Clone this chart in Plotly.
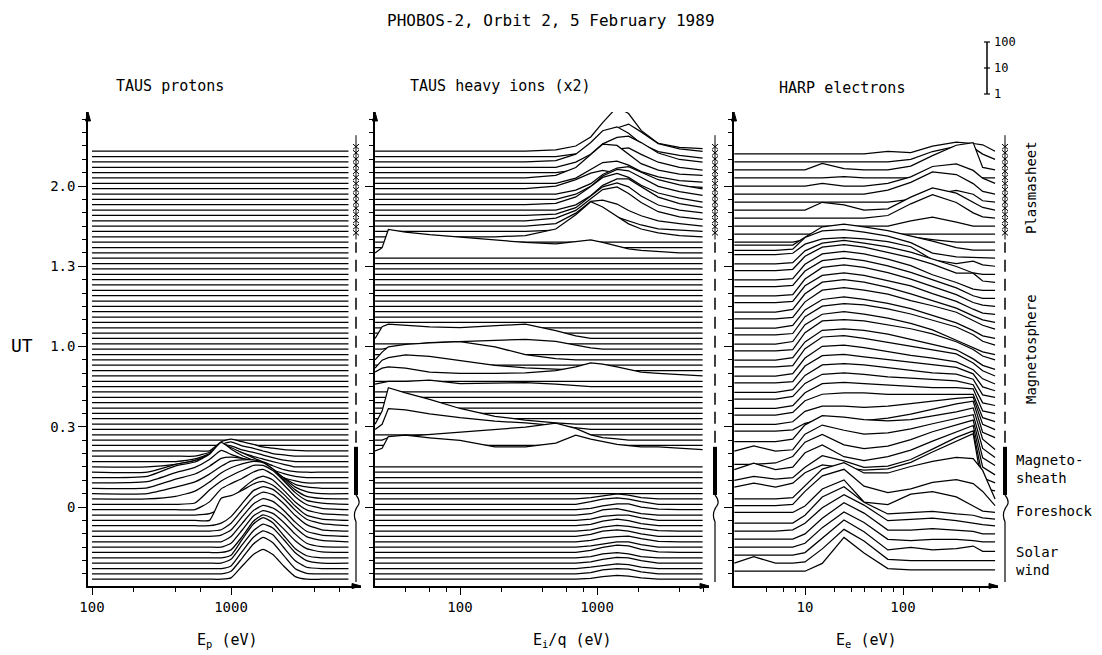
import plotly.graph_objects as go

# ---------------- data ----------------
# UT in minutes after 00:00 (rows of the waterfall), heights in log10(counts)
proton_energy = [100, 250, 400, 550, 700, 850, 1000, 1200, 1450, 1700, 2000, 2400, 2900, 3500, 4500, 7000]
proton_ut = [-27, -25, -23, -21, -19, -17, -15, -13, -11, -9, -7, -5, -3, -1, 1, 3, 5, 7, 9, 11, 13, 15,
             17, 19, 21, 23, 25, 27, 29, 31, 33, 35, 37, 39, 41, 43, 45, 47, 49, 51, 53, 55, 57, 59, 61,
             63, 65, 67, 69, 71, 73, 75, 77, 79, 81, 83, 85, 87, 89, 91, 93, 95, 97, 99, 101, 103, 105,
             107, 109, 111, 113, 115, 117, 119, 121, 123, 125, 127, 129, 131, 133]
proton_spectra = {
    -27: [0, 0, 0, 0, 0, 0, 0.05, 0.5, 0.95, 1.15, 0.95, 0.5, 0.1, 0, 0, 0],
    -25: [0, 0, 0, 0, 0, 0, 0.1, 0.6, 1.15, 1.4, 1.2, 0.7, 0.2, 0.02, 0, 0],
    -23: [0, 0, 0, 0, 0, 0, 0.1, 0.65, 1.2, 1.45, 1.3, 0.8, 0.3, 0.05, 0, 0],
    -21: [0, 0, 0, 0, 0, 0, 0.15, 0.7, 1.25, 1.5, 1.35, 0.9, 0.4, 0.1, 0, 0],
    -19: [0, 0, 0, 0, 0, 0, 0.1, 0.7, 1.3, 1.55, 1.35, 0.85, 0.35, 0.08, 0, 0],
    -17: [0, 0, 0, 0, 0, 0, 0.1, 0.6, 1.2, 1.45, 1.3, 0.9, 0.45, 0.15, 0.02, 0],
    -15: [0, 0, 0, 0, 0, 0, 0.15, 0.65, 1.2, 1.4, 1.3, 0.95, 0.5, 0.15, 0.02, 0],
    -13: [0, 0, 0, 0, 0, 0, 0.2, 0.7, 1.2, 1.4, 1.3, 1.0, 0.55, 0.2, 0.05, 0],
    -11: [0, 0, 0, 0, 0, 0.05, 0.25, 0.75, 1.25, 1.45, 1.35, 1.0, 0.55, 0.2, 0.05, 0],
    -9: [0, 0, 0, 0, 0, 0.05, 0.3, 0.8, 1.3, 1.5, 1.4, 1.05, 0.6, 0.25, 0.05, 0],
    -7: [0, 0, 0, 0, 0, 0.1, 0.35, 0.85, 1.35, 1.5, 1.4, 1.05, 0.6, 0.25, 0.08, 0],
    -5: [0, 0, 0, 0, 0, 0.85, 0.95, 1.15, 1.4, 1.5, 1.35, 1.0, 0.55, 0.2, 0.05, 0],
    -3: [0, 0, 0, 0, 0.05, 0.25, 0.6, 1.0, 1.35, 1.5, 1.35, 0.95, 0.5, 0.2, 0.05, 0],
    -1: [0, 0, 0, 0, 0.3, 0.8, 1.0, 1.2, 1.45, 1.55, 1.35, 0.95, 0.5, 0.2, 0.05, 0],
    1: [0, 0, 0, 0.05, 0.55, 0.9, 1.1, 1.3, 1.5, 1.5, 1.3, 0.9, 0.45, 0.15, 0.05, 0],
    3: [0, 0, 0.1, 0.3, 0.65, 1.0, 1.2, 1.35, 1.45, 1.4, 1.15, 0.75, 0.35, 0.1, 0.02, 0],
    5: [0, 0, 0.25, 0.45, 0.75, 1.05, 1.25, 1.3, 1.3, 1.2, 0.95, 0.6, 0.25, 0.08, 0, 0],
    7: [0, 0.02, 0.35, 0.55, 0.85, 1.15, 1.2, 1.15, 1.05, 0.9, 0.65, 0.4, 0.15, 0.05, 0, 0],
    9: [0, 0.05, 0.4, 0.6, 0.9, 1.25, 1.1, 0.95, 0.8, 0.6, 0.4, 0.2, 0.08, 0, 0, 0],
    11: [0, 0.05, 0.45, 0.6, 0.9, 1.35, 1.1, 0.85, 0.65, 0.45, 0.3, 0.15, 0.05, 0, 0, 0],
    13: [0, 0, 0.3, 0.45, 0.7, 1.1, 0.95, 0.75, 0.55, 0.4, 0.25, 0.1, 0.02, 0, 0, 0],
    15: [0, 0, 0.1, 0.25, 0.45, 0.8, 0.7, 0.55, 0.4, 0.3, 0.2, 0.1, 0, 0, 0, 0],
    17: [0, 0, 0, 0.1, 0.3, 0.65, 0.6, 0.45, 0.35, 0.25, 0.15, 0.05, 0, 0, 0, 0],
    19: [0, 0, 0, 0, 0.15, 0.45, 0.55, 0.4, 0.3, 0.2, 0.1, 0.05, 0, 0, 0, 0],
    21: [0, 0, 0, 0, 0, 0.35, 0.45, 0.35, 0.25, 0.15, 0.1, 0.05, 0.02, 0, 0, 0],
}

heavy_energy = [24, 27, 30, 40, 60, 100, 180, 300, 500, 700, 900, 1100, 1400, 1700, 2100, 2800, 4000, 5900]
heavy_ut = [-27, -25, -23, -21, -19, -17, -15, -13, -11, -9, -7, -5, -3, -1, 1, 3, 5, 7, 9, 11, 13, 15,
            21, 23, 25, 27, 29, 31, 33, 35, 37, 39, 41, 43, 45, 47, 49, 51, 53, 55, 57, 59, 61,
            63, 65, 67, 69, 71, 73, 75, 77, 79, 81, 83, 85, 87, 89, 91, 93, 95, 97, 99, 101, 103, 105,
            107, 109, 111, 113, 115, 117, 119, 121, 123, 125, 127, 129, 131, 133]
heavy_spectra = {
    133: [0, 0, 0, 0, 0, 0, 0, 0, 0.05, 0.2, 0.55, 1.1, 1.7, 1.45, 0.8, 0.3, 0.15, 0.1],
    131: [0, 0, 0, 0, 0, 0, 0, 0, 0, 0.1, 0.3, 0.7, 1.1, 1.25, 0.95, 0.5, 0.3, 0.2],
    129: [0, 0, 0, 0, 0, 0, 0, 0, 0.05, 0.3, 0.75, 1.2, 1.35, 1.1, 0.7, 0.4, 0.25, 0.15],
    127: [0, 0, 0, 0, 0, 0, 0, 0, 0, 0.2, 0.5, 0.9, 1.15, 1.2, 0.95, 0.55, 0.3, 0.2],
    125: [0, 0, 0, 0, 0, 0, 0, 0, 0, 0.1, 0.3, 0.6, 0.9, 0.95, 0.7, 0.4, 0.2, 0.1],
    123: [0, 0, 0, 0, 0, 0, 0, 0, 0.1, 0.4, 0.9, 1.3, 1.25, 0.9, 0.55, 0.3, 0.15, 0.1],
    121: [0, 0, 0, 0, 0, 0, 0, 0, 0, 0.2, 0.55, 0.8, 0.85, 0.7, 0.45, 0.25, 0.1, 0.05],
    119: [0, 0, 0, 0, 0, 0, 0, 0, 0.1, 0.35, 0.6, 0.7, 0.6, 0.4, 0.25, 0.15, 0.1, 0.05],
    117: [0, 0, 0, 0, 0, 0, 0, 0, 0, 0.15, 0.4, 0.75, 1.0, 1.05, 0.85, 0.55, 0.35, 0.2],
    115: [0, 0, 0, 0, 0, 0, 0, 0, 0, 0.2, 0.5, 0.9, 1.15, 1.1, 0.85, 0.5, 0.3, 0.15],
    113: [0, 0, 0, 0, 0, 0, 0, 0, 0.05, 0.3, 0.7, 1.05, 1.2, 1.05, 0.75, 0.45, 0.25, 0.1],
    111: [0, 0, 0, 0, 0, 0, 0, 0, 0, 0.2, 0.55, 0.95, 1.2, 1.2, 0.9, 0.5, 0.25, 0.1],
    109: [0, 0, 0, 0, 0, 0, 0, 0, 0.05, 0.3, 0.75, 1.1, 1.25, 1.1, 0.75, 0.4, 0.2, 0.1],
    107: [0, 0, 0, 0, 0, 0, 0, 0, 0.1, 0.4, 0.85, 1.2, 1.3, 1.05, 0.7, 0.35, 0.15, 0.05],
    105: [0, 0, 0, 0, 0, 0, 0, 0, 0.1, 0.5, 0.95, 1.0, 0.85, 0.6, 0.4, 0.2, 0.1, 0],
    103: [0, 0, 0, 0, 0, 0, 0, 0, 0.05, 0.3, 0.6, 0.65, 0.55, 0.4, 0.25, 0.1, 0.05, 0],
    101: [0, 0, 0, 0, 0, 0, 0, 0.05, 0.3, 0.85, 1.35, 1.15, 0.8, 0.5, 0.3, 0.15, 0.05, 0],
    95: [0, 0.2, 0.9, 0.8, 0.7, 0.6, 0.5, 0.4, 0.35, 0.42, 0.5, 0.4, 0.25, 0.15, 0.1, 0.05, 0, 0],
    63: [0, 0.45, 0.55, 0.5, 0.45, 0.42, 0.5, 0.55, 0.3, 0.1, 0, 0, 0, 0, 0, 0, 0, 0],
    59: [0, 0, 0.05, 0.15, 0.25, 0.3, 0.35, 0.38, 0.3, 0.15, 0.05, 0, 0, 0, 0, 0, 0, 0],
    55: [0, 0.3, 0.5, 0.6, 0.65, 0.7, 0.5, 0.2, 0.05, 0, 0, 0, 0, 0, 0, 0, 0, 0],
    51: [0.1, 0.4, 0.5, 0.6, 0.55, 0.4, 0.2, 0.1, 0.05, 0, 0, 0, 0, 0, 0, 0, 0, 0],
    49: [0.15, 0.3, 0.35, 0.3, 0.15, 0.1, 0.1, 0.12, 0.2, 0.35, 0.5, 0.45, 0.35, 0.25, 0.15, 0.1, 0.05, 0],
    45: [0.1, 0.15, 0.2, 0.2, 0.25, 0.12, 0.15, 0.15, 0.1, 0.05, 0, 0, 0, 0, 0, 0, 0, 0],
    31: [0, 0.5, 1.4, 1.2, 0.95, 0.6, 0.3, 0.15, 0.05, 0, 0, 0, 0, 0, 0, 0, 0, 0],
    29: [0, 0.2, 0.8, 0.75, 0.6, 0.45, 0.32, 0.25, 0.15, 0.05, 0, 0, 0, 0, 0, 0, 0, 0],
    25: [0, 0, 0.1, 0.15, 0.2, 0.3, 0.4, 0.5, 0.65, 0.45, 0.2, 0.1, 0.05, 0, 0, 0, 0, 0],
    21: [0, 0.1, 0.55, 0.6, 0.5, 0.4, 0.15, 0.15, 0.3, 0.6, 0.45, 0.35, 0.25, 0.2, 0.15, 0.15, 0.1, 0.05],
    3: [0, 0, 0, 0, 0, 0, 0, 0, 0, 0, 0.05, 0.12, 0.2, 0.15, 0.05, 0, 0, 0],
    1: [0, 0, 0, 0, 0, 0, 0, 0, 0, 0, 0.1, 0.2, 0.25, 0.2, 0.1, 0, 0, 0],
    -1: [0, 0, 0, 0, 0, 0, 0, 0, 0, 0, 0.05, 0.15, 0.22, 0.22, 0.1, 0.02, 0, 0],
    -3: [0, 0, 0, 0, 0, 0, 0, 0, 0, 0, 0.05, 0.2, 0.25, 0.15, 0.05, 0, 0, 0],
    -5: [0, 0, 0, 0, 0, 0, 0, 0, 0, 0, 0.05, 0.15, 0.2, 0.2, 0.1, 0, 0, 0],
    -7: [0, 0, 0, 0, 0, 0, 0, 0, 0, 0, 0.05, 0.18, 0.25, 0.2, 0.08, 0, 0, 0],
    -9: [0, 0, 0, 0, 0, 0, 0, 0, 0, 0, 0.05, 0.15, 0.22, 0.18, 0.1, 0.02, 0, 0],
    -11: [0, 0, 0, 0, 0, 0, 0, 0, 0, 0, 0.08, 0.2, 0.25, 0.2, 0.1, 0, 0, 0],
    -13: [0, 0, 0, 0, 0, 0, 0, 0, 0, 0, 0.05, 0.15, 0.2, 0.22, 0.12, 0.02, 0, 0],
    -15: [0, 0, 0, 0, 0, 0, 0, 0, 0, 0, 0.05, 0.12, 0.2, 0.2, 0.1, 0, 0, 0],
    -17: [0, 0, 0, 0, 0, 0, 0, 0, 0, 0, 0.08, 0.2, 0.28, 0.25, 0.12, 0.02, 0, 0],
    -19: [0, 0, 0, 0, 0, 0, 0, 0, 0, 0, 0.05, 0.15, 0.2, 0.15, 0.05, 0, 0, 0],
    -21: [0, 0, 0, 0, 0, 0, 0, 0, 0, 0, 0.05, 0.15, 0.22, 0.2, 0.1, 0, 0, 0],
    -23: [0, 0, 0, 0, 0, 0, 0, 0, 0, 0, 0.05, 0.12, 0.18, 0.15, 0.05, 0, 0, 0],
    -25: [0, 0, 0, 0, 0, 0, 0, 0, 0, 0, 0.05, 0.15, 0.2, 0.18, 0.08, 0, 0, 0],
    -27: [0, 0, 0, 0, 0, 0, 0, 0, 0, 0, 0.03, 0.1, 0.15, 0.12, 0.05, 0, 0, 0],
}

electron_energy = [1.9, 3, 5, 7.5, 10, 15, 25, 40, 70, 120, 200, 350, 520, 650, 870]
electron_ut = [132, 129, 126, 123, 120, 117, 114, 111, 108, 105, 102, 99, 96, 93, 90, 87, 84, 81, 78,
               75, 72, 69, 66, 63, 60, 57, 54, 51, 48, 45, 42, 39, 36, 33, 30, 27, 24, 21, 18, 15, 12,
               9, 6, 3, 0, -3, -6, -9, -12, -15, -18, -21, -24]
electron_spectra = {
    132: [0, 0, 0, 0, 0, 0, 0, 0, 0.1, 0.05, 0.3, 0.45, 0.4, 0.35, 0.1],
    129: [0, 0, 0, 0, 0, 0, 0, 0, 0, 0.1, 0.4, 0.6, 0.55, 0.3, 0.1],
    126: [0, 0, 0, 0, 0, 0.25, 0.05, 0, 0, 0.15, 0.55, 0.95, 1.05, 0.1, 0],
    123: [0, 0, 0, 0, 0, 0, 0.05, 0, 0, 0, 0.05, 0.1, 0.05, 0, 0],
    120: [0, 0, 0, 0, 0, 0.1, 0, 0, 0.1, 0.35, 0.75, 0.85, 0.6, 0.3, 0.1],
    117: [0, 0, 0, 0, 0, 0, 0, 0, 0.15, 0.45, 0.85, 0.75, 0.4, 0.1, 0],
    114: [0, 0, 0, 0, 0, 0, 0, 0, 0, 0.1, 0.3, 0.45, 0.3, 0.05, 0],
    111: [0, 0, 0, 0, 0, 0.3, 0.2, 0, 0.05, 0.5, 0.85, 0.65, 0.3, 0.1, 0],
    108: [0, 0, 0, 0, 0, 0, 0, 0, 0.1, 0.55, 0.9, 0.6, 0.2, 0.05, 0],
    105: [0, 0, 0, 0, 0, 0, 0, 0, 0, 0.2, 0.35, 0.15, 0, 0, 0],
    99: [0, 0, 0, 0, 0.1, 0.35, 0.5, 0.45, 0.35, 0.2, 0.1, 0, 0, 0, 0],
    96: [0.2, 0.2, 0.2, 0.2, 0.5, 0.9, 1.0, 0.9, 0.75, 0.55, 0.35, 0.1, 0, 0, 0],
    93: [0.3, 0.3, 0.3, 0.35, 0.8, 1.05, 1.1, 1.0, 0.85, 0.6, 0.2, 0.05, 0.02, 0, 0],
    90: [0.45, 0.45, 0.45, 0.5, 0.85, 1.05, 1.1, 1.05, 0.95, 0.75, 0.25, 0.1, 0.2, 0.05, 0],
    87: [0.4, 0.4, 0.4, 0.45, 0.9, 1.2, 1.3, 1.2, 1.05, 0.85, 0.6, 0.3, 0.05, 0, 0],
    84: [0.45, 0.45, 0.45, 0.5, 1.0, 1.35, 1.45, 1.35, 1.15, 0.95, 0.7, 0.35, 0.35, 0.05, 0],
    81: [0.4, 0.4, 0.4, 0.45, 1.0, 1.4, 1.5, 1.4, 1.2, 0.95, 0.6, 0.3, 0.05, 0, 0],
    78: [0.45, 0.45, 0.45, 0.5, 1.05, 1.45, 1.55, 1.45, 1.25, 1.0, 0.7, 0.4, 0.1, 0, 0],
    75: [0.4, 0.4, 0.4, 0.45, 1.05, 1.5, 1.6, 1.5, 1.3, 1.05, 0.75, 0.45, 0.15, 0.05, 0],
    72: [0.45, 0.45, 0.45, 0.5, 1.1, 1.5, 1.6, 1.5, 1.3, 1.1, 0.8, 0.5, 0.2, 0.05, 0],
    69: [0.4, 0.4, 0.4, 0.5, 1.1, 1.55, 1.65, 1.55, 1.35, 1.1, 0.85, 0.55, 0.25, 0.1, 0],
    66: [0.45, 0.45, 0.45, 0.5, 1.1, 1.55, 1.65, 1.55, 1.4, 1.15, 0.95, 0.7, 0.4, 0.2, 0.05],
    63: [0.4, 0.4, 0.4, 0.5, 1.1, 1.5, 1.6, 1.5, 1.35, 1.15, 0.9, 0.6, 0.3, 0.1, 0],
    60: [0.45, 0.45, 0.45, 0.5, 1.15, 1.55, 1.65, 1.6, 1.45, 1.25, 1.0, 0.75, 0.45, 0.2, 0.05],
    57: [0.4, 0.4, 0.4, 0.5, 1.15, 1.55, 1.65, 1.55, 1.4, 1.2, 0.95, 0.55, 0.25, 0.1, 0],
    54: [0.45, 0.45, 0.45, 0.5, 1.15, 1.6, 1.65, 1.6, 1.45, 1.3, 1.1, 0.8, 0.5, 0.25, 0.1],
    51: [0.4, 0.4, 0.4, 0.5, 1.1, 1.55, 1.6, 1.55, 1.4, 1.2, 1.0, 0.8, 0.45, 0.2, 0.05],
    48: [0.45, 0.45, 0.45, 0.5, 1.15, 1.6, 1.65, 1.55, 1.4, 1.25, 1.1, 0.95, 0.6, 0.3, 0.1],
    45: [0.4, 0.4, 0.4, 0.5, 1.1, 1.55, 1.6, 1.5, 1.35, 1.2, 1.1, 0.95, 0.65, 0.3, 0.1],
    42: [0.45, 0.45, 0.45, 0.5, 1.1, 1.5, 1.55, 1.45, 1.35, 1.25, 1.15, 1.05, 0.8, 0.3, 0.15],
    39: [0.4, 0.4, 0.4, 0.5, 1.05, 1.45, 1.5, 1.45, 1.35, 1.25, 1.15, 1.1, 0.9, 0.3, 0.2],
    36: [0.45, 0.45, 0.45, 0.55, 1.05, 1.4, 1.45, 1.4, 1.3, 1.25, 1.2, 1.15, 1.0, 0.3, 0.2],
    33: [0.4, 0.4, 0.4, 0.5, 1.0, 1.35, 1.4, 1.35, 1.3, 1.25, 1.2, 1.2, 1.15, 0.3, 0.2],
    30: [0.45, 0.45, 0.45, 0.55, 1.0, 1.25, 1.3, 1.3, 1.25, 1.25, 1.25, 1.25, 1.25, 0.35, 0.2],
    27: [0.4, 0.4, 0.4, 0.5, 0.9, 1.1, 1.1, 1.05, 1.1, 1.2, 1.3, 1.4, 1.45, 0.4, 0.2],
    24: [0.45, 0.45, 0.45, 0.5, 0.75, 0.9, 0.85, 0.85, 0.95, 1.1, 1.3, 1.5, 1.6, 0.4, 0.2],
    21: [0.35, 0.35, 0.35, 0.45, 1.0, 1.35, 1.3, 1.2, 1.15, 1.2, 1.35, 1.5, 1.65, 0.45, 0.05],
    18: [0.3, 0.5, 0.3, 0.35, 0.95, 1.3, 1.1, 0.95, 1.0, 1.15, 1.35, 1.55, 1.7, 0.4, 0.05],
    15: [0.1, 0.1, 0.15, 0.4, 0.95, 1.25, 0.85, 0.7, 0.8, 1.05, 1.35, 1.6, 1.8, 0.35, 0.05],
    12: [0.2, 0.45, 0.2, 0.3, 0.85, 1.15, 0.7, 0.55, 0.7, 0.95, 1.3, 1.65, 1.9, 0.3, 0],
    9: [0.1, 0.25, 0.15, 0.2, 0.6, 1.05, 0.85, 0.6, 0.65, 0.9, 1.3, 1.75, 2.0, 0.2, 0],
    6: [0.15, 0.3, 0.15, 0.3, 0.7, 1.0, 0.9, 0.8, 0.85, 1.1, 1.5, 1.9, 2.2, 0.1, 0],
    3: [0, 0, 0, 0.05, 0.5, 1.15, 1.4, 1.0, 1.0, 1.25, 1.45, 1.6, 1.55, 1.1, 0],
    0: [0.05, 0.05, 0.05, 0.1, 0.6, 1.2, 1.45, 0.8, 0.55, 0.7, 0.95, 1.05, 0.9, 0.6, 0.05],
    -3: [0.1, 0.1, 0.1, 0.1, 0.35, 1.0, 1.35, 0.5, 0.4, 0.8, 0.9, 0.7, 0.35, 0.15, 0.1],
    -6: [0, 0, 0, 0, 0.3, 1.0, 1.4, 0.8, 0.35, 0.4, 0.45, 0.35, 0.3, 0.2, 0.15],
    -9: [0, 0, 0, 0.05, 0.3, 0.9, 1.4, 1.0, 0.4, 0.45, 0.5, 0.4, 0.3, 0.25, 0.2],
    -12: [0, 0, 0, 0, 0.2, 0.8, 1.4, 1.0, 0.35, 0.35, 0.4, 0.35, 0.3, 0.2, 0.2],
    -15: [0, 0, 0, 0, 0.15, 0.75, 1.35, 0.95, 0.3, 0.25, 0.3, 0.3, 0.25, 0.2, 0.2],
    -18: [0, 0, 0, 0, 0.1, 0.65, 1.35, 0.9, 0.2, 0.3, 0.2, 0.25, 0.35, 0.15, 0.15],
    -21: [0, 0.25, 0, 0, 0.05, 0.55, 1.3, 0.85, 0.15, 0.1, 0.1, 0.1, 0.1, 0.1, 0.1],
    -24: [0, 0, 0, 0, 0, 0.3, 1.3, 0.7, 0.1, 0.05, 0.05, 0.05, 0.05, 0.05, 0.05],
}

ut_tick_vals = [0, 30, 60, 90, 120]
ut_tick_text = ["0", "0.3", "1.0", "1.3", "2.0"]

# region intervals (UT minutes) marked on the right of every panel
region_plasmasheet = (100, 139)
region_magnetosphere = (24, 99)
region_magnetosheath = (4.5, 22.5)
region_foreshock = (-7.5, 4.5)
region_solarwind = (-28, -7.5)

# ---------------- layout constants ----------------
W, H = 1102, 655
PAGE = 8                        # browser body margin: compensate so the page matches
FONT = "DejaVu Sans Mono"
UT0 = 30                        # y = UT + UT0, so the panel bottom sits near y=0
PX_PER_MIN = 2.675
DECADE = 26 / PX_PER_MIN        # one decade of counts in y units
LW = 1.25


def fx(x):
    return (x - PAGE) / W


def fy(y):
    return 1 - (y - PAGE) / H


Y_RANGE = [(507 - 586) / PX_PER_MIN + UT0, (507 - 112) / PX_PER_MIN + UT0]
Y_DOMAIN = [fy(586), fy(112)]

panels = [
    dict(x="x", y="y", energy=proton_energy, ut=proton_ut, spec=proton_spectra,
         dom=(88, 361), rng=[2 + (88 - 92) / 139, 2 + (361 - 92) / 139],
         tickvals=[100, 1000], ticktext=["100", "1000"],
         minor=[200, 400, 600, 2000, 4000, 6000], col=356, labels=True, shape="spline"),
    dict(x="x2", y="y2", energy=heavy_energy, ut=heavy_ut, spec=heavy_spectra,
         dom=(375, 709), rng=[2 + (375 - 460) / 137, 2 + (709 - 460) / 137],
         tickvals=[100, 1000], ticktext=["100", "1000"],
         minor=[40, 60, 80, 200, 400, 600, 800, 2000, 4000, 6000], col=715, labels=False,
         shape="linear"),
    dict(x="x3", y="y3", energy=electron_energy, ut=electron_ut, spec=electron_spectra,
         dom=(734, 998), rng=[1 + (734 - 805) / 98, 2 + (998 - 903) / 98],
         tickvals=[10, 100], ticktext=["10", "100"],
         minor=[4, 6, 8, 20, 30, 40, 60, 80, 200, 400, 600], col=1005, labels=False,
         shape="linear"),
]

fig = go.Figure()
shapes = []
annotations = []
layout_axes = {}

for i, p in enumerate(panels):
    # waterfall: draw back (late UT) to front (early UT); white fill hides lines behind
    for ut in sorted(p["ut"], reverse=True):
        h = p["spec"].get(ut, [0] * len(p["energy"]))
        yy = [ut + UT0 + DECADE * v for v in h]
        fig.add_trace(go.Scatter(
            x=p["energy"], y=yy, mode="lines",
            line=dict(color="black", width=LW, shape=p["shape"], smoothing=0.5),
            fill="tozeroy", fillcolor="white",
            xaxis=p["x"], yaxis=p["y"], hoverinfo="skip", showlegend=False))

    xkey = "xaxis" if i == 0 else f"xaxis{i+1}"
    ykey = "yaxis" if i == 0 else f"yaxis{i+1}"
    layout_axes[xkey] = dict(
        type="log", domain=[fx(p["dom"][0]), fx(p["dom"][1])], range=p["rng"],
        anchor=p["y"], showline=True, linecolor="black", linewidth=1.5,
        showgrid=False, zeroline=False, ticks="outside", ticklen=7, tickwidth=1.2,
        tickcolor="black", tickmode="array", tickvals=p["tickvals"], ticktext=p["ticktext"],
        tickfont=dict(family=FONT, size=14, color="black"), automargin=False,
        minor=dict(tickmode="array", tickvals=p["minor"], ticks="outside", ticklen=4,
                   tickcolor="black", tickwidth=1, showgrid=False),
    )
    layout_axes[ykey] = dict(
        domain=Y_DOMAIN, range=Y_RANGE, anchor=p["x"], showline=True, linecolor="black",
        linewidth=1.5, showgrid=False, zeroline=False, ticks="outside", ticklen=8,
        tickwidth=1.2, tickcolor="black", tickmode="array",
        tickvals=[v + UT0 for v in ut_tick_vals], ticktext=ut_tick_text,
        showticklabels=p["labels"], automargin=False,
        tickfont=dict(family=FONT, size=14, color="black"),
        minor=dict(dtick=5, tick0=0, ticks="outside", ticklen=4, tickcolor="black",
                   tickwidth=1, showgrid=False),
    )

    # axis arrowheads (filled triangles)
    xl, xr = fx(p["dom"][0]), fx(p["dom"][1])
    yt, yb = Y_DOMAIN[1], Y_DOMAIN[0]
    shapes.append(dict(type="path", xref="paper", yref="paper",
                       path=f"M {xl},{yt} L {xl - 2.5 / W},{yt - 9 / H} L {xl + 2.5 / W},{yt - 9 / H} Z",
                       fillcolor="black", line=dict(color="black", width=1)))
    shapes.append(dict(type="path", xref="paper", yref="paper",
                       path=f"M {xr},{yb} L {xr - 9 / W},{yb + 2.5 / H} L {xr - 9 / W},{yb - 2.5 / H} Z",
                       fillcolor="black", line=dict(color="black", width=1)))

    # region column
    xc = fx(p["col"])
    dx = 1.0 / W
    yref = p["y"]
    lo, hi = region_plasmasheet
    shapes.append(dict(type="line", xref="paper", yref=yref, x0=xc, x1=xc,
                       y0=lo + UT0, y1=hi + UT0, line=dict(color="black", width=1)))
    path = ""
    u = lo + 2.5
    while u <= hi - 3:
        yc = u + UT0
        ey = 2.6 / PX_PER_MIN
        path += (f"M {xc - 3*dx},{yc - ey} L {xc + 3*dx},{yc + ey} "
                 f"M {xc - 3*dx},{yc + ey} L {xc + 3*dx},{yc - ey} ")
        u += 2.3
    shapes.append(dict(type="path", xref="paper", yref=yref, path=path,
                       line=dict(color="black", width=1)))
    lo, hi = region_magnetosphere
    shapes.append(dict(type="line", xref="paper", yref=yref, x0=xc, x1=xc,
                       y0=lo + UT0, y1=hi + UT0,
                       line=dict(color="black", width=1.5, dash="12px,7px")))
    lo, hi = region_magnetosheath
    shapes.append(dict(type="line", xref="paper", yref=yref, x0=xc, x1=xc,
                       y0=lo + UT0, y1=hi + UT0, line=dict(color="black", width=4)))
    lo, hi = region_foreshock
    brace = (f"M {xc},{hi + UT0} Q {xc + 5*dx},{hi - 2.5 + UT0} {xc + 2*dx},{(hi + lo) / 2 + 2 + UT0} "
             f"Q {xc - 4*dx},{(hi + lo) / 2 - 1 + UT0} {xc},{lo + 2 + UT0} L {xc},{lo + UT0}")
    shapes.append(dict(type="path", xref="paper", yref=yref, path=brace,
                       line=dict(color="black", width=1.2)))
    lo, hi = region_solarwind
    shapes.append(dict(type="line", xref="paper", yref=yref, x0=xc, x1=xc,
                       y0=lo + UT0, y1=hi + UT0, line=dict(color="black", width=1.2)))


def txt(text, x, y, size=15, xanchor="center", angle=0, align="center"):
    annotations.append(dict(text=text, x=fx(x), y=fy(y), xref="paper", yref="paper",
                            showarrow=False, xanchor=xanchor, yanchor="middle",
                            textangle=angle, align=align,
                            font=dict(family=FONT, size=size, color="black")))


txt("PHOBOS-2, Orbit 2, 5 February 1989", 551, 20, size=16)
txt("TAUS protons", 170, 86)
txt("TAUS heavy ions (x2)", 500, 86)
txt("HARP electrons", 842, 88)
txt("UT", 22, 346, size=18)
txt("E<sub>p</sub> (eV)", 228, 640)
txt("E<sub>i</sub>/q (eV)", 572, 640)
txt("E<sub>e</sub> (eV)", 866, 640)
txt("Plasmasheet", 1031, 188, size=14, angle=-90)
txt("Magnetosphere", 1031, 349, size=14, angle=-90)
txt("Magneto-<br>sheath", 1014, 469, size=14, xanchor="left", align="left")
txt("Foreshock", 1014, 511, size=14, xanchor="left", align="left")
txt("Solar<br>wind", 1014, 561, size=14, xanchor="left", align="left")

# count-scale bar (1 / 10 / 100)
sx = fx(987)
for yy_px, lbl in [(42, "100"), (68, "10"), (94, "1")]:
    shapes.append(dict(type="line", xref="paper", yref="paper", x0=sx - 3 / W, x1=sx + 3 / W,
                       y0=fy(yy_px), y1=fy(yy_px), line=dict(color="black", width=1.2)))
    txt(lbl, 992, yy_px, size=12, xanchor="left")
shapes.append(dict(type="line", xref="paper", yref="paper", x0=sx, x1=sx,
                   y0=fy(42), y1=fy(94), line=dict(color="black", width=1.5)))

fig.update_layout(
    width=W, height=H, margin=dict(l=0, r=0, t=0, b=0),
    paper_bgcolor="white", plot_bgcolor="white", showlegend=False,
    shapes=shapes, annotations=annotations, **layout_axes,
)

fig.write_html("out.html")
